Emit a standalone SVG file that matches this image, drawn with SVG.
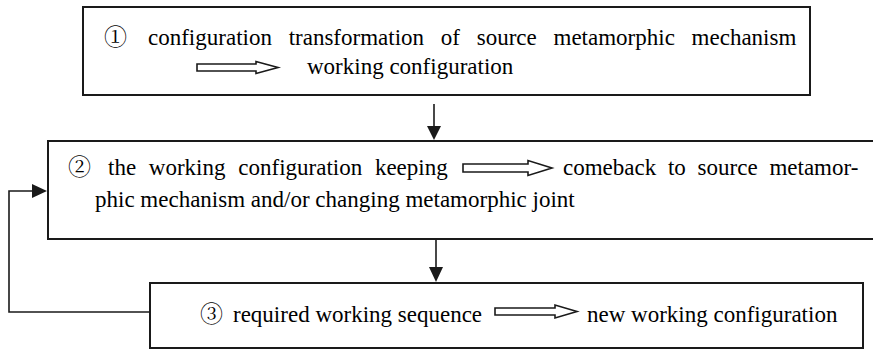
<svg xmlns="http://www.w3.org/2000/svg" width="873" height="351" viewBox="0 0 873 351">
  <style>
    .box { fill: #ffffff; stroke: #1a1a1a; stroke-width: 2; }
    .hollow { fill: #ffffff; stroke: #1a1a1a; stroke-width: 1.6; }
    .conn { fill: none; stroke: #1a1a1a; stroke-width: 1.6; }
    .head { fill: #1a1a1a; stroke: none; }
  </style>

  <g id="step1">
    <rect class="box" x="83" y="7" width="727" height="88"/>
    <text x="148" y="45" font-size="23" font-family="Liberation Serif, Times New Roman, serif" word-spacing="11">configuration transformation of source metamorphic mechanism</text>
    <path class="hollow" d="M197,64 L256,64 L256,61.5 L278,67.5 L256,73.5 L256,71 L197,71 Z"/>
    <text x="307" y="74" font-size="23" font-family="Liberation Serif, Times New Roman, serif">working configuration</text>
    <text x="104" y="45" font-size="23" font-family="Noto Serif CJK SC, Noto Sans CJK SC, serif">①</text>
  </g>

  <g id="step2">
    <path class="box" d="M873,141 L48,141 L48,239 L873,239"/>
    <text x="108" y="175" font-size="23" font-family="Liberation Serif, Times New Roman, serif" word-spacing="7">the working configuration keeping</text>
    <path class="hollow" d="M463,164 L528,164 L528,160.5 L552,168 L528,175.5 L528,172 L463,172 Z"/>
    <text x="563" y="175" font-size="23" font-family="Liberation Serif, Times New Roman, serif" word-spacing="6">comeback to source metamor-</text>
    <text x="95" y="207" font-size="23" font-family="Liberation Serif, Times New Roman, serif">phic mechanism and/or changing metamorphic joint</text>
    <text x="68" y="175" font-size="23" font-family="Noto Serif CJK SC, Noto Sans CJK SC, serif">②</text>
  </g>

  <g id="step3">
    <rect class="box" x="150" y="283" width="713" height="65"/>
    <text x="233" y="322" font-size="23" font-family="Liberation Serif, Times New Roman, serif">required working sequence</text>
    <path class="hollow" d="M495,308 L555,308 L555,305 L577,311.5 L555,318 L555,315 L495,315 Z"/>
    <text x="587" y="322" font-size="23" font-family="Liberation Serif, Times New Roman, serif">new working configuration</text>
    <text x="200" y="322" font-size="23" font-family="Noto Serif CJK SC, Noto Sans CJK SC, serif">③</text>
  </g>

  <g id="connectors">
    <line class="conn" x1="434" y1="104" x2="434" y2="126"/>
    <polygon class="head" points="427,126 441,126 434,140"/>
    <line class="conn" x1="436" y1="240" x2="436" y2="268"/>
    <polygon class="head" points="429,267 443,267 436,282"/>
    <polyline class="conn" points="150,312 9,312 9,191 33,191"/>
    <polygon class="head" points="32,184 32,198 47,191"/>
  </g>
</svg>
